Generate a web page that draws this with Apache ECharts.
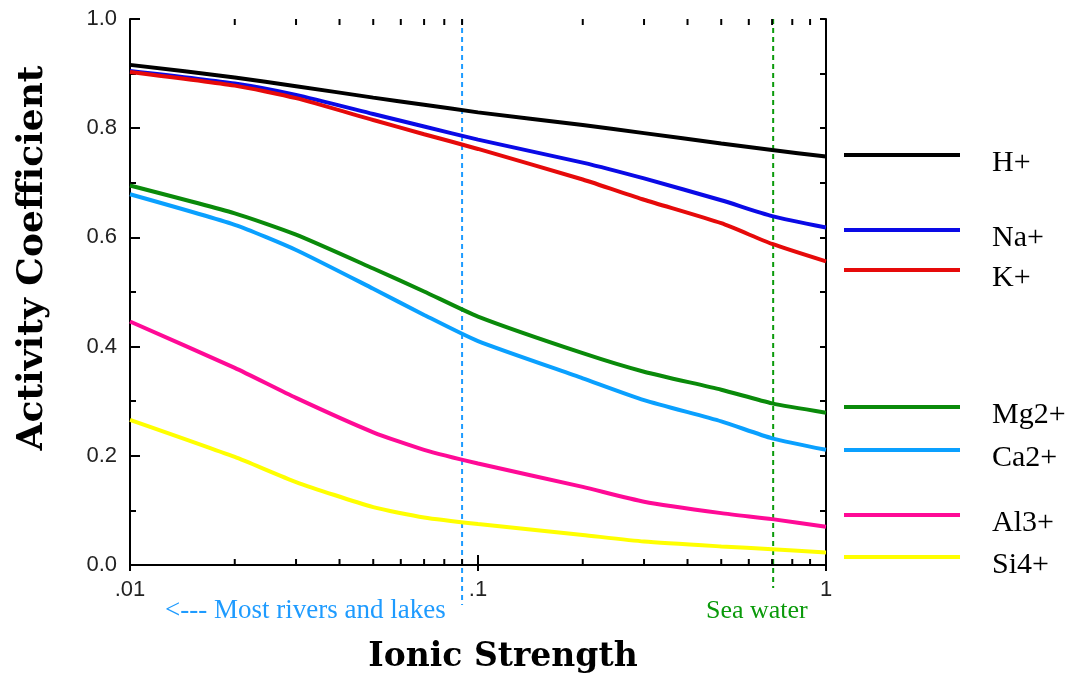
<!DOCTYPE html>
<html>
<head>
<meta charset="utf-8">
<title>Activity Coefficient vs Ionic Strength</title>
<script src="https://cdn.jsdelivr.net/npm/echarts@6/dist/echarts.min.js"></script>
<style>
  html, body { margin: 0; padding: 0; background: #fff; }
  #chart { width: 1073px; height: 677px; }
</style>
</head>
<body>
<div id="chart"></div>
<script>
// ionic strength sample points (log axis)
var ionicStrength = [0.01, 0.02, 0.03, 0.05, 0.07, 0.1, 0.2, 0.3, 0.5, 0.7, 1];

// activity coefficients
var hPlus  = [0.916, 0.893, 0.877, 0.856, 0.843, 0.829, 0.806, 0.791, 0.772, 0.760, 0.748];
var naPlus = [0.905, 0.882, 0.861, 0.826, 0.803, 0.779, 0.737, 0.708, 0.668, 0.639, 0.618];
var kPlus  = [0.903, 0.878, 0.855, 0.815, 0.789, 0.762, 0.706, 0.669, 0.626, 0.588, 0.556];
var mg2    = [0.695, 0.644, 0.605, 0.543, 0.501, 0.455, 0.388, 0.354, 0.321, 0.296, 0.279];
var ca2    = [0.679, 0.623, 0.577, 0.506, 0.458, 0.410, 0.342, 0.302, 0.263, 0.232, 0.211];
var al3    = [0.446, 0.361, 0.306, 0.243, 0.211, 0.186, 0.143, 0.116, 0.095, 0.084, 0.070];
var si4    = [0.266, 0.198, 0.152, 0.106, 0.087, 0.075, 0.055, 0.043, 0.034, 0.029, 0.023];

var seriesNames = ['H+', 'Na+', 'K+', 'Mg2+', 'Ca2+', 'Al3+', 'Si4+'];
var seriesValues = [hPlus, naPlus, kPlus, mg2, ca2, al3, si4];
var seriesColors = ['#000000', '#0a0ae6', '#e60a0a', '#0a8a0a', '#0aa0ff', '#ff0a96', '#ffff00'];

// x tick labels for the decades .01 / .1 / 1
var xTickLabels = ['.01', '.1', '1'];

// reference lines: rivers/lakes and sea water
var refValues = [0.09, 0.705];
var refLabels = ['<--- Most rivers and lakes', 'Sea water'];
var refColors = ['#1e9bff', '#0a9a0a'];

// minor log ticks 2..9 in each decade
var minorTicks = [];
[0.01, 0.1].forEach(function (d) {
  for (var m = 2; m <= 9; m++) minorTicks.push(+(d * m).toFixed(3));
});

var chart = echarts.init(document.getElementById('chart'), null, { renderer: 'canvas' });

var lineSeries = seriesNames.map(function (name, i) {
  return {
    name: name,
    type: 'line',
    showSymbol: false,
    smooth: 0.2,
    lineStyle: { color: seriesColors[i], width: 4 },
    itemStyle: { color: seriesColors[i] },
    data: ionicStrength.map(function (x, k) { return [x, seriesValues[i][k]]; }),
    z: 3
  };
});

// minor ticks on top and bottom frame lines
var minorTickSeries = {
  type: 'custom',
  silent: true,
  animation: false,
  clip: false,
  data: minorTicks.map(function (v) { return [v, 0]; }),
  renderItem: function (params, api) {
    var bottom = api.coord([api.value(0), 0]);
    var top = api.coord([api.value(0), 1]);
    var style = { stroke: '#000', lineWidth: 2 };
    return {
      type: 'group',
      children: [
        { type: 'line', shape: { x1: bottom[0], y1: bottom[1], x2: bottom[0], y2: bottom[1] - 6 }, style: style },
        { type: 'line', shape: { x1: top[0], y1: top[1], x2: top[0], y2: top[1] + 6 }, style: style }
      ]
    };
  },
  z: 5
};

// dotted reference lines running below the axis
var refSeries = {
  type: 'custom',
  silent: true,
  animation: false,
  clip: false,
  data: refValues.map(function (v) { return [v, 0]; }),
  renderItem: function (params, api) {
    var i = params.dataIndex;
    var top = api.coord([api.value(0), 1]);
    var bottom = api.coord([api.value(0), 0]);
    var ext = i === 0 ? 40 : 23;
    return {
      type: 'line',
      shape: { x1: top[0], y1: top[1], x2: bottom[0], y2: bottom[1] + ext },
      style: { stroke: refColors[i], lineWidth: 2, lineDash: [5, 4] }
    };
  },
  z: 2
};

// legend drawn at the right side
var legendY = [155, 230, 270, 407, 450, 515, 557];
var legendGraphics = [];
seriesNames.forEach(function (name, i) {
  legendGraphics.push({
    type: 'line',
    shape: { x1: 844, y1: legendY[i], x2: 960, y2: legendY[i] },
    style: { stroke: seriesColors[i], lineWidth: 4 }
  });
  legendGraphics.push({
    type: 'text',
    x: 992,
    y: legendY[i] + 8,
    style: {
      text: name,
      font: '30px "Liberation Serif"',
      fill: '#000',
      verticalAlign: 'middle'
    }
  });
});

var option = {
  backgroundColor: '#fff',
  animation: false,
  grid: { left: 130, right: 247, top: 19, bottom: 112 },
  xAxis: [
    {
      type: 'log',
      logBase: 10,
      min: 0.01,
      max: 1,
      position: 'bottom',
      axisLine: { lineStyle: { color: '#000', width: 2 } },
      axisTick: { inside: true, length: 10, lineStyle: { color: '#000', width: 2 } },
      splitLine: { show: false },
      axisLabel: {
        margin: 14,
        fontFamily: 'Liberation Sans',
        fontSize: 22,
        color: '#222',
        formatter: function (v) {
          return xTickLabels[Math.round(Math.log10(v)) + 2];
        }
      }
    },
    {
      type: 'log',
      logBase: 10,
      min: 0.01,
      max: 1,
      position: 'top',
      axisLine: { lineStyle: { color: '#000', width: 2 } },
      axisTick: { inside: true, length: 6, lineStyle: { color: '#000', width: 2 } },
      axisLabel: { show: false },
      splitLine: { show: false }
    }
  ],
  yAxis: [
    {
      type: 'value',
      min: 0,
      max: 1,
      interval: 0.2,
      position: 'left',
      axisLine: { show: true, lineStyle: { color: '#000', width: 2 } },
      axisTick: { show: true, inside: true, length: 10, lineStyle: { color: '#000', width: 2 } },
      minorTick: { show: true, splitNumber: 2, length: 6, lineStyle: { color: '#000', width: 2 } },
      splitLine: { show: false },
      axisLabel: {
        margin: 13,
        fontFamily: 'Liberation Sans',
        fontSize: 22,
        color: '#222',
        formatter: function (v) { return v.toFixed(1); }
      }
    },
    {
      type: 'value',
      min: 0,
      max: 1,
      interval: 0.1,
      position: 'right',
      axisLine: { show: true, lineStyle: { color: '#000', width: 2 } },
      axisTick: { show: true, inside: true, length: 6, lineStyle: { color: '#000', width: 2 } },
      axisLabel: { show: false },
      splitLine: { show: false }
    }
  ],
  series: lineSeries.concat([minorTickSeries, refSeries]),
  graphic: [
    {
      type: 'text',
      x: 33,
      y: 258,
      rotation: Math.PI / 2,
      style: {
        text: 'Activity Coefficient',
        font: 'bold 36px "DejaVu Serif"',
        fill: '#000',
        align: 'center',
        verticalAlign: 'middle'
      }
    },
    {
      type: 'text',
      x: 503,
      y: 657,
      style: {
        text: 'Ionic Strength',
        font: 'bold 33px "DejaVu Serif"',
        fill: '#000',
        align: 'center',
        verticalAlign: 'middle'
      }
    },
    {
      type: 'text',
      x: 165,
      y: 611,
      style: {
        text: refLabels[0],
        font: '27px "Liberation Serif"',
        fill: refColors[0],
        verticalAlign: 'middle'
      }
    },
    {
      type: 'text',
      x: 706,
      y: 611,
      style: {
        text: refLabels[1],
        font: '26px "Liberation Serif"',
        fill: refColors[1],
        verticalAlign: 'middle'
      }
    }
  ].concat(legendGraphics)
};

chart.setOption(option);
</script>
</body>
</html>
